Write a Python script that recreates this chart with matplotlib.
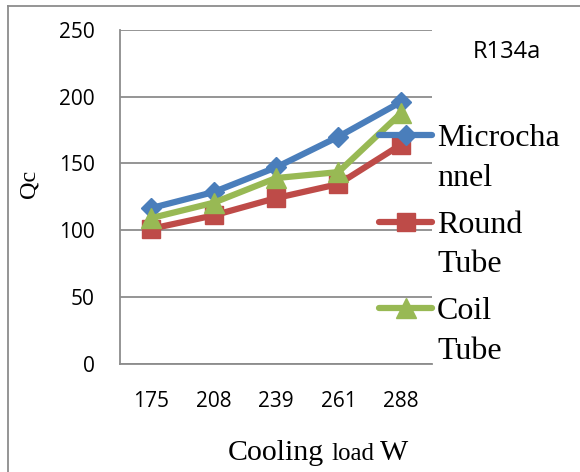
import matplotlib.pyplot as plt
from matplotlib.lines import Line2D

loads = ["175", "208", "239", "261", "288"]
microchannel = [116.5, 128.5, 147, 170, 196]
round_tube = [101, 111, 124, 134.5, 164]
coil_tube = [109, 120.5, 139, 143.5, 187.5]
y_ticks = [0, 50, 100, 150, 200, 250]

series_names = [("Microcha", "nnel"), ("Round", "Tube"), ("Coil", "Tube")]

W, H = 580, 472
fig = plt.figure(figsize=(W / 100, H / 100), dpi=100)
ax = fig.add_axes([120 / W, 1 - 363.5 / H, 312 / W, 333.5 / H])


def fx(px):
    return px / W


def fy(py):
    return 1 - py / H


x = list(range(len(loads)))
blue, red, green = "#4a7ebb", "#be4b48", "#98b954"
styles = [
    (microchannel, blue, "D", 10),
    (round_tube, red, "s", 13),
    (coil_tube, green, "^", 14),
]
for z, (vals, col, mk, ms) in enumerate(styles):
    ax.plot(x, vals, color=col, lw=4.5, marker=mk, ms=ms, zorder=3 + z,
            solid_capstyle="round")

ax.set_xlim(-0.5, len(loads) - 0.5)
ax.set_ylim(0, 250)
ax.set_yticks(y_ticks)
ax.set_xticks(x)
ax.set_xticklabels(loads)
ax.grid(axis="y", color="#8c8c8c", lw=1.3)
ax.set_axisbelow(True)
for s in ["top", "right"]:
    ax.spines[s].set_visible(False)
for s in ["left", "bottom"]:
    ax.spines[s].set_color("#8c8c8c")
    ax.spines[s].set_linewidth(1.3)
ax.tick_params(length=0, labelsize=15)
ax.tick_params(axis="y", pad=18)
ax.tick_params(axis="x", pad=20)
for lab in ax.get_xticklabels() + ax.get_yticklabels():
    lab.set_fontfamily("Open Sans")

# axis titles
fig.text(fx(29), fy(184), "Qc", rotation=90, ha="center", va="center",
         fontfamily="Liberation Serif", fontsize=17.5)

fig.canvas.draw()
renderer = fig.canvas.get_renderer()
cur = 228.0
for piece, size, gap in [("Cooling", 21.5, 7), ("load", 18, 6), ("W", 21.5, 0)]:
    t = fig.text(fx(cur), fy(460.5), piece, ha="left", va="baseline",
                 fontfamily="Liberation Serif", fontsize=size)
    cur += t.get_window_extent(renderer).width + gap

fig.text(fx(507), fy(52.5), "R134a", ha="center", va="center",
         fontfamily="Open Sans", fontsize=17)

# legend drawn as figure artists
entry_y = [135, 221.5, 308]
for (vals, col, mk, ms), (l1, l2), yy in zip(styles, series_names, entry_y):
    fig.add_artist(Line2D([fx(379), fx(432)], [fy(yy), fy(yy)], color=col,
                          lw=4.5, solid_capstyle="round",
                          transform=fig.transFigure))
    fig.add_artist(Line2D([fx(405.5)], [fy(yy)], color=col, marker=mk,
                          ms=ms, transform=fig.transFigure))
    fig.text(fx(437), fy(yy + 11), l1, ha="left", va="baseline",
             fontfamily="Liberation Serif", fontsize=23)
    fig.text(fx(437), fy(yy + 51), l2, ha="left", va="baseline",
             fontfamily="Liberation Serif", fontsize=23)

# outer frame
fig.add_artist(Line2D([fx(8), fx(8)], [0, fy(6)], color="#8c8c8c",
                      lw=1.3, transform=fig.transFigure))
fig.add_artist(Line2D([fx(8), 1], [fy(6), fy(6)], color="#8c8c8c",
                      lw=1.3, transform=fig.transFigure))

fig.savefig("out.png", dpi=100)
